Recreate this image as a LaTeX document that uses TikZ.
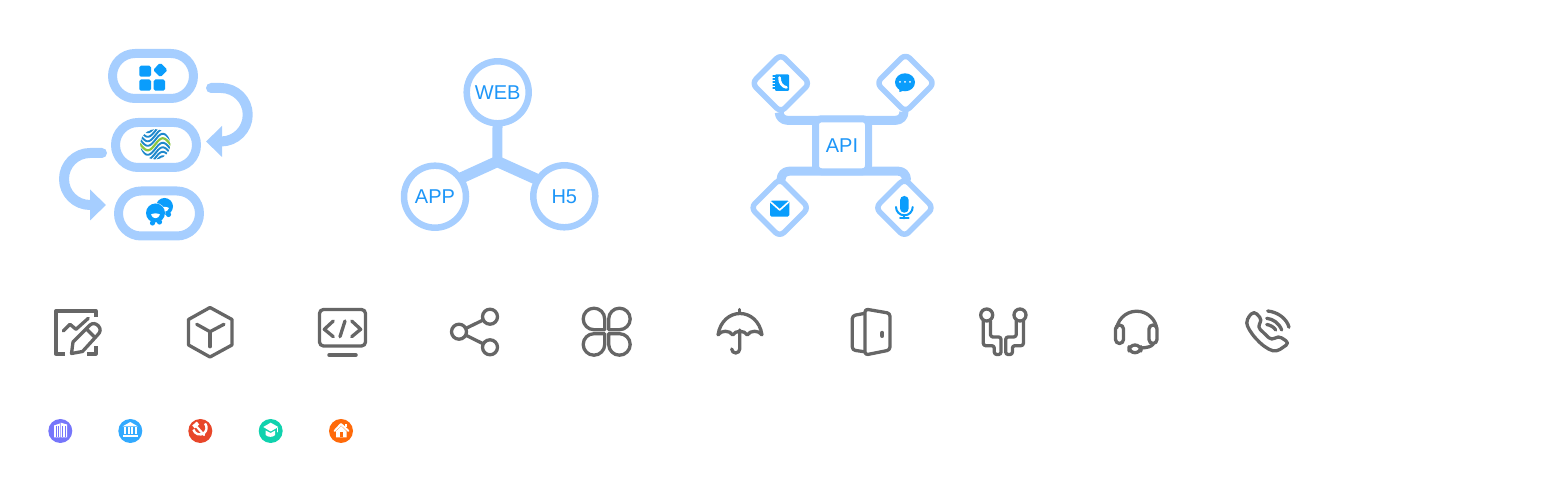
\documentclass[tikz,border=0pt]{standalone}
\usepackage{fontspec}
\setmainfont{Liberation Sans}
\usetikzlibrary{arrows.meta,shapes.geometric}
\definecolor{ringcol}  {RGB}{166,206,255}
\definecolor{labelcol} {RGB}{ 30,150,248}
\definecolor{glyphcol} {RGB}{ 10,157,252}
\definecolor{greycol}  {RGB}{102,102,102}
\definecolor{mobiledk} {RGB}{ 30,136,204}
\definecolor{mobilegr} {RGB}{140,198, 63}
\definecolor{badgea}   {RGB}{118,118,251}
\definecolor{badgeb}   {RGB}{ 51,170,255}
\definecolor{badgec}   {RGB}{232, 71, 42}
\definecolor{badged}   {RGB}{ 16,210,174}
\definecolor{badgee}   {RGB}{255,106, 10}

\begin{document}
\begin{tikzpicture}[
  % one unit is one pixel of the reference, y runs downwards
  x=0.5pt,y=-0.5pt,
  line cap=round,line join=round,
  pill/.style={draw=ringcol,fill=white,line width=4.5pt,rounded corners=11.25pt,
    minimum width=40.5pt,minimum height=22.5pt,inner sep=0pt,outer sep=0pt},
  ring/.style={circle,draw=ringcol,fill=white,line width=3.25pt,minimum size=31pt,
    inner sep=0pt,outer sep=0pt,text=labelcol,font=\fontsize{10}{12}\selectfont},
  kite/.style={diamond,aspect=1,draw=ringcol,fill=white,line width=2.75pt,
    rounded corners=3pt,minimum size=29pt,inner sep=0pt,outer sep=0pt},
  apibox/.style={rectangle,draw=ringcol,fill=white,line width=3.5pt,rounded corners=3pt,
    minimum size=26.5pt,inner sep=0pt,outer sep=0pt,text=labelcol,
    font=\fontsize{10}{12}\selectfont},
  badge/.style={circle,minimum size=12pt,inner sep=0pt,outer sep=0pt},
  flow/.style={draw=ringcol,line width=5pt,-{Triangle[length=8pt,width=15pt]}},
  spoke/.style={draw=ringcol,line width=5pt,line cap=butt,line join=miter},
  bus/.style={draw=ringcol,line width=4.5pt,line cap=butt,rounded corners=4pt},
  icon/.style={draw=greycol,line width=1.65pt}
]
\useasboundingbox (0,0) rectangle (1554,490);

% ---- loop of three pills -------------------------------------------------
\node[pill] (pillapps) at (153,76) {};
\node[pill] (pillmobile) at (156,145) {};
\node[pill] (pillfetion) at (159,213.5) {};
\coordinate (flowastart) at (211,88);
\coordinate (flowaend) at (206,141.5);
\coordinate (flowbstart) at (102,153);
\coordinate (flowbend) at (106,205);
\draw[flow] (flowastart) -- (221,88) arc[start angle=-90,end angle=90,radius=26.75] -- (flowaend);
\draw[flow] (flowbstart) -- (90,153) arc[start angle=-90,end angle=-270,radius=26] -- (flowbend);

% ---- pill glyphs ---------------------------------------------------------
\fill[glyphcol,rounded corners=0.8pt] (139.3,65.7) rectangle (151,76.7);
\fill[glyphcol,rounded corners=0.8pt] (139.3,79.5) rectangle (151,90.7);
\fill[glyphcol,rounded corners=0.8pt] (153.7,79.5) rectangle (165,90.7);
\fill[glyphcol,rounded corners=0.8pt] (160.3,62.7) -- (167.6,70) -- (160.3,77.3) -- (153,70) -- cycle;

\begin{scope}
  \clip[rounded corners=7pt] (155.3,123.3) -- (176.3,144.3) -- (155.3,165.3) -- (134.3,144.3) -- cycle;
  \foreach \off in {-18,-13.5,-9,-4.5,4.5,9,13.5,18}
    \draw[mobiledk,line width=0.95pt,line cap=butt]
      plot[domain=-16:16,samples=30,variable=\t] ({155.3+\t},{144.3+\off-6*sin(\t*12)});
  \draw[mobilegr,line width=1.1pt,line cap=butt]
    plot[domain=-16:16,samples=30,variable=\t] ({155.3+\t},{144.3-6*sin(\t*12)});
\end{scope}

\foreach \hx/\hy/\hr in {164.5/206.5/8.5,155.5/213/9.5}{
  \fill[white] (\hx,\hy) circle[radius=\hr+0.5];
  \fill[glyphcol] (\hx,\hy) circle[radius=\hr];
  \fill[glyphcol] (\hx-3,\hy+\hr+0.5) circle[radius=2.6];
  \fill[glyphcol] (\hx+4,\hy+\hr-0.5) circle[radius=2.6];
  \fill[white] (\hx-4.5,\hy+1.5) .. controls (\hx-2,\hy) and (\hx+2,\hy) .. (\hx+4.5,\hy+1.5)
    .. controls (\hx+3,\hy+6.5) and (\hx-3,\hy+6.5) .. cycle;
}

% ---- three rings on a hub ------------------------------------------------
\node[ring] (ringweb) at (497.7,92.3) {WEB};
\node[ring] (ringapp) at (435,196.7) {APP};
\node[ring] (ringhfive) at (564.3,196.3) {H5};
\coordinate (hub) at (497.3,161.5);
\draw[spoke] (ringweb) -- (hub);
\draw[spoke,line width=5.6pt] (ringapp.36) -- (hub) -- (ringhfive.148);

% ---- api with four kites -------------------------------------------------
\node[kite] (kitebook) at (780.8,83.3) {};
\node[kite] (kitechat) at (905.5,83) {};
\node[kite] (kitemail) at (779.7,207.7) {};
\node[kite] (kitemic) at (904.4,207.7) {};
\coordinate (bustop) at (842,120.3);
\coordinate (busbottom) at (842,171.2);
\draw[bus] ([xshift=-0.8pt]kitebook.south) |- (bustop) -| ([xshift=-0.8pt]kitechat.south);
\draw[bus] ([xshift=0.7pt]kitemail.north) |- (busbottom) -| ([xshift=1pt]kitemic.north);
\node[apibox] (apicore) at (842,145.3) {API};

% ---- kite glyphs ---------------------------------------------------------
\fill[glyphcol,rounded corners=0.5pt] (775,74.3) rectangle (789,91);
\foreach \ty in {76,79,82,85,88}
  \draw[glyphcol,line width=0.6pt] (773,\ty) -- (776.5,\ty);
\draw[white,line width=1.3pt] (779.5,77.5) .. controls (779.5,83) and (782,86.5) .. (786.5,87.5);

\fill[glyphcol] (905,82.3) ellipse[x radius=10,y radius=9];
\fill[glyphcol] (899,87) -- (899.5,92) -- (906,90) -- cycle;
\foreach \dx in {900,905,910}
  \fill[white] (\dx,82) circle[radius=1];

\fill[glyphcol,rounded corners=0.8pt] (770,200.7) rectangle (789.3,216.7);
\draw[white,line width=0.8pt] (770.7,202) -- (779.7,210) -- (788.6,202);

\fill[glyphcol,rounded corners=2.1pt] (900,196) rectangle (908.7,212.7);
\draw[glyphcol,line width=1pt] (896,207) arc[start angle=180,end angle=0,radius=8.35];
\draw[glyphcol,line width=1pt] (904.35,215.4) -- (904.35,218.3);
\draw[glyphcol,line width=1pt] (900,218.5) -- (908.7,218.5);

% ---- grey icons ----------------------------------------------------------
% chart with pencil
\draw[icon,line cap=butt] (96,317) -- (96,311) -- (56,311) -- (56,354) -- (65,354);
\draw[icon,line cap=butt] (87,354) -- (96,354) -- (96,346);
\draw[icon] (63.3,331) -- (70,324.3) -- (76,329.3) -- (88.3,318.3);
\draw[icon] (71.5,353.5) -- (73,342) -- (90,325) .. controls (93,322.5) and (96,323.5) .. (98.5,326)
  .. controls (101,329) and (100.5,332) .. (98,334.5) -- (82.5,351.5) -- cycle;
\draw[icon] (86.5,329) -- (95,337.5);

% box
\draw[icon] (210,307.5) -- (232,319.5) -- (232,345) -- (210,357) -- (188.5,345) -- (188.5,319.5) -- cycle;
\draw[icon] (196.7,324.3) -- (210,331.7) -- (224,324.3);
\draw[icon] (210,331.7) -- (210,346.7);

% monitor with code
\draw[icon,rounded corners=2pt] (319.5,309.5) rectangle (365.5,346);
\draw[greycol,line width=1.75pt] (329,355) -- (356,355);
\draw[icon] (333.3,321) -- (324.3,329.3) -- (333.3,336.7);
\draw[icon] (351.7,321) -- (360.7,329.3) -- (351.7,336.7);
\draw[icon] (345,321) -- (340,336.7);

% share
\draw[icon] (490,316.7) circle[radius=7.5];
\draw[icon] (459,331.7) circle[radius=7.5];
\draw[icon] (490,347.3) circle[radius=7.5];
\draw[icon,line cap=butt] (465.8,328.4) -- (483.2,320);
\draw[icon,line cap=butt] (465.6,335.1) -- (483.4,343.9);

% clover
\foreach \a in {0,90,180,270}
  \draw[icon,rotate around={\a:(606.7,331.7)}]
    (604.7,329.7) -- (604.7,318.95) arc[start angle=0,end angle=-270,radius=10.75] -- cycle;

% umbrella
\draw[icon,line cap=butt] (718,335) .. controls (720,321) and (730,313.5) .. (740,313.5)
  .. controls (750,313.5) and (760,321) .. (762,335);
\draw[icon] (718,335) to[bend left=60] (732.7,335) to[bend left=60] (747.3,335) to[bend left=60] (762,335);
\draw[icon] (739.7,309.5) -- (739.7,313);
\draw[icon] (739.7,330) -- (739.7,349) arc[start angle=0,end angle=180,radius=4];

% door
\draw[icon,rounded corners=1.5pt] (865,309) -- (890,313.3) -- (890,350) -- (865,355) -- cycle;
\draw[icon,rounded corners=1.5pt] (864,313.5) -- (852.3,315.7) -- (852.3,350) -- (864,351.7);
\draw[greycol,line width=2pt] (882.3,332.8) -- (882.3,336);

% two seats
\draw[icon] (986.7,315) circle[radius=6];
\draw[icon] (1020,315) circle[radius=6];
\draw[icon,rounded corners=1.2pt] (983.3,321) -- (983.3,345.7) -- (994.3,345.7) -- (994.3,354.5)
  -- (1001,354.5) -- (1001,337) -- (990.5,337) -- (990.5,321);
\draw[icon,rounded corners=1.2pt] (1023.4,321) -- (1023.4,345.7) -- (1012.4,345.7) -- (1012.4,354.5)
  -- (1005.7,354.5) -- (1005.7,337) -- (1016.2,337) -- (1016.2,321);

% headset
\draw[icon] (1116.7,328) arc[start angle=-170,end angle=-10,radius=20.3];
\draw[icon,rounded corners=2pt] (1115.5,325) rectangle (1123.5,343.5);
\draw[icon,rounded corners=2pt] (1149,325) rectangle (1157,343.5);
\draw[icon] (1153.3,344) .. controls (1151,347) and (1147,347.5) .. (1141.7,348);
\draw[icon,rounded corners=3pt] (1129,345) rectangle (1141,352.7);

% phone
\draw[icon,rounded corners=2pt] (1254,311) -- (1246.7,319) .. controls (1247,330) and (1262,348) .. (1276.7,351.7)
  -- (1289.3,343) -- (1278.3,335.7) -- (1271.7,340.5) -- (1257.3,326.7) -- (1262.3,320) -- cycle;
\draw[icon] (1267.7,311) .. controls (1278,312) and (1287,319) .. (1289,327.3);
\draw[icon] (1266.7,318.3) .. controls (1273,319) and (1279,323) .. (1281.7,330);
\draw[icon] (1266.7,324.5) .. controls (1270,325) and (1274,327) .. (1275.7,330);

% ---- badges --------------------------------------------------------------
\node[badge,fill=badgea] (badgetowers) at (60.3,431) {};
\node[badge,fill=badgeb] (badgebank) at (130.3,431) {};
\node[badge,fill=badgec] (badgeparty) at (200.3,431) {};
\node[badge,fill=badged] (badgecap) at (270.7,431) {};
\node[badge,fill=badgee] (badgehome) at (341,431) {};

\fill[white] (54,425.5) -- (60,423.5) -- (60,437.5) -- (54,437.5) -- cycle;
\fill[white] (60.7,422.7) -- (67,424.5) -- (67,437.5) -- (60.7,437.5) -- cycle;
\foreach \wx in {56,58,62.8,65}
  \draw[badgea,line width=0.35pt,line cap=butt] (\wx,426.5) -- (\wx,437.5);

\fill[white] (122.5,426.5) -- (130.3,422) -- (138,426.5) -- cycle;
\foreach \wx in {124.8,128.6,132.2,136}
  \draw[white,line width=0.9pt,line cap=butt] (\wx,427.5) -- (\wx,434.5);
\fill[white] (122.5,435) rectangle (138,437);

\draw[white,line width=1.2pt,line cap=butt] (205,423.5) arc[start angle=-40,end angle=165,radius=6.7];
\draw[white,line width=1.1pt] (197,427) -- (204,435);
\draw[white,line width=1.9pt,line cap=butt] (193.5,427) -- (198,423);

\fill[white] (270.7,422.7) -- (278.3,427) -- (270.7,431.5) -- (263.3,427) -- cycle;
\fill[white] (265.7,430.5) -- (270.7,433) -- (275.2,430.5) -- (275.2,435) .. controls (273,437.5) and (268,437.5) .. (265.7,435) -- cycle;
\draw[white,line width=0.4pt] (277.3,428) -- (277.3,432);

\draw[white,line width=1pt] (334.5,431) -- (341,424) -- (348.5,431);
\fill[white] (345,424) rectangle (346.7,427.5);
\fill[white] (341,426) -- (346.5,431.5) -- (346.5,437.3) -- (336,437.3) -- (336,431.5) -- cycle;
\fill[badgee] (340,432.5) rectangle (343,437.3);

\end{tikzpicture}
\end{document}
